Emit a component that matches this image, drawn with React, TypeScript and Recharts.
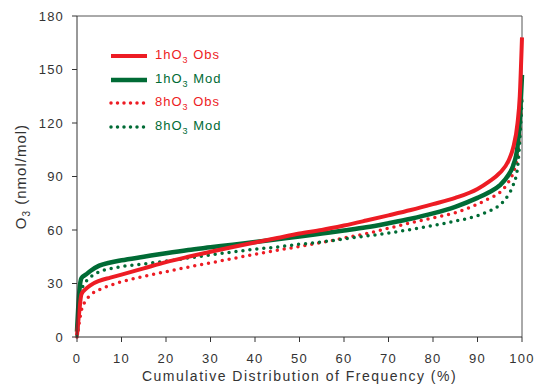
import React from 'react';
import { LineChart, Line, XAxis, YAxis, Legend, ReferenceLine } from 'recharts';

// cumulative frequency (%) where the curves were read
const pct = [0, 0.5, 1, 2, 3, 5, 7.5, 10, 15, 20, 25, 30, 35, 40, 45, 50, 55, 60, 65, 70, 75, 80, 85, 90, 92.5, 95, 97, 98, 99, 99.5, 100];

const obs1h = [1, 14, 24, 27, 29, 31.5, 33.3, 35, 38.5, 42, 45, 47.8, 50.5, 53, 55.5, 58, 60, 62.5, 65.3, 68.2, 71.2, 74.5, 78, 83, 87, 92, 99, 106, 120, 135, 168];
const mod1h = [3, 25, 33, 35, 37, 40, 41.8, 43, 45, 47, 48.8, 50.3, 51.8, 53.3, 54.8, 56.3, 58, 59.7, 61.5, 63.8, 66.3, 69.3, 73, 78, 81, 85, 91, 96, 107, 122, 147];
const obs8h = [0, 8, 15, 20.5, 23.5, 26.5, 29, 31, 34, 36.6, 39.2, 41.6, 44, 46.4, 48.6, 50.8, 53, 55.5, 58, 61, 64, 66.8, 69.7, 74.5, 77.5, 81, 87, 92, 102, 115, 136];
const mod8h = [1, 15, 26, 31, 33.5, 36.5, 38.3, 39.5, 41, 42.5, 44.3, 46, 47.7, 49.2, 50.5, 52, 53.3, 55, 56.6, 58.3, 60.3, 62.5, 65, 68, 70.5, 74, 80, 85, 95, 110, 133];

const xTicks = [0, 10, 20, 30, 40, 50, 60, 70, 80, 90, 100];
const yTicks = [0, 30, 60, 90, 120, 150, 180];

const RED = '#ED1C24';
const GREEN = '#006B35';
const AXIS = '#333';
const FONT = '"Liberation Sans", Arial, sans-serif';

const rows = pct.map((x, i) => ({ x, obs1h: obs1h[i], mod1h: mod1h[i], obs8h: obs8h[i], mod8h: mod8h[i] }));

const legendItems = [
  { hour: '1h', kind: 'Obs', color: RED, dotted: false, width: 4 },
  { hour: '1h', kind: 'Mod', color: GREEN, dotted: false, width: 4.5 },
  { hour: '8h', kind: 'Obs', color: RED, dotted: true, width: 3.5 },
  { hour: '8h', kind: 'Mod', color: GREEN, dotted: true, width: 3.5 },
];

const LegendBox = () => (
  <div style={{ fontFamily: FONT }}>
    {legendItems.map((it) => (
      <div key={it.hour + it.kind} style={{ display: 'flex', alignItems: 'center', height: 23.7 }}>
        <svg width={40} height={8} style={{ marginRight: 6 }}>
          <line
            x1={2} y1={4} x2={38} y2={4}
            stroke={it.color}
            strokeWidth={it.width}
            strokeLinecap={it.dotted ? 'round' : 'butt'}
            strokeDasharray={it.dotted ? '0 6.5' : undefined}
          />
        </svg>
        <span style={{ color: it.color, fontSize: 13, letterSpacing: 1 }}>
          {it.hour}O<sub style={{ fontSize: 9, verticalAlign: -4 }}>3</sub> {it.kind}
        </span>
      </div>
    ))}
  </div>
);

const YTitle = (props: any) => {
  const vb = props.viewBox || {};
  const cy = vb.y + vb.height / 2;
  return (
    <text
      transform={`translate(25.5, ${cy}) rotate(-90)`}
      textAnchor="middle"
      fill={AXIS}
      fontSize={15}
      fontFamily={FONT}
      letterSpacing={1}
    >
      O<tspan dy={4} fontSize={10}>3</tspan>
      <tspan dy={-4}> (nmol/mol)</tspan>
    </text>
  );
};

const tickStyle = { fill: AXIS, fontSize: 13, fontFamily: FONT, letterSpacing: 1.2 };

export default function App() {
  return (
    <div style={{ width: 534, height: 391, background: '#fff' }}>
      <style>{'body{margin:0}'}</style>
      <LineChart width={534} height={391} data={rows} margin={{ top: 16, right: 12, bottom: 0, left: 0 }}>
        <XAxis
          dataKey="x"
          type="number"
          domain={[0, 100]}
          ticks={xTicks}
          tickSize={5}
          tickMargin={12}
          height={54}
          stroke={AXIS}
          tick={tickStyle}
          label={{
            value: 'Cumulative Distribution of Frequency (%)',
            position: 'insideBottom',
            offset: 10,
            fill: AXIS,
            fontSize: 14,
            fontFamily: FONT,
            letterSpacing: 1.5,
          }}
        />
        <YAxis
          type="number"
          domain={[0, 180]}
          ticks={yTicks}
          width={77}
          tickSize={5}
          tickMargin={8}
          stroke={AXIS}
          tick={tickStyle}
          label={{ content: YTitle }}
        />
        <ReferenceLine y={180} stroke="#555" />
        <ReferenceLine x={100} stroke="#555" />
        <Legend
          layout="vertical"
          align="center"
          verticalAlign="middle"
          content={LegendBox}
          wrapperStyle={{ position: 'absolute', left: 109, top: 44, width: 160 }}
        />
        <Line type="monotone" dataKey="obs8h" stroke={RED} strokeWidth={3.5} strokeDasharray="0 7" strokeLinecap="round" dot={false} activeDot={false} isAnimationActive={false} />
        <Line type="monotone" dataKey="mod8h" stroke={GREEN} strokeWidth={3.5} strokeDasharray="0 7" strokeLinecap="round" dot={false} activeDot={false} isAnimationActive={false} />
        <Line type="monotone" dataKey="mod1h" stroke={GREEN} strokeWidth={4.5} dot={false} activeDot={false} isAnimationActive={false} />
        <Line type="monotone" dataKey="obs1h" stroke={RED} strokeWidth={4} dot={false} activeDot={false} isAnimationActive={false} />
      </LineChart>
    </div>
  );
}
